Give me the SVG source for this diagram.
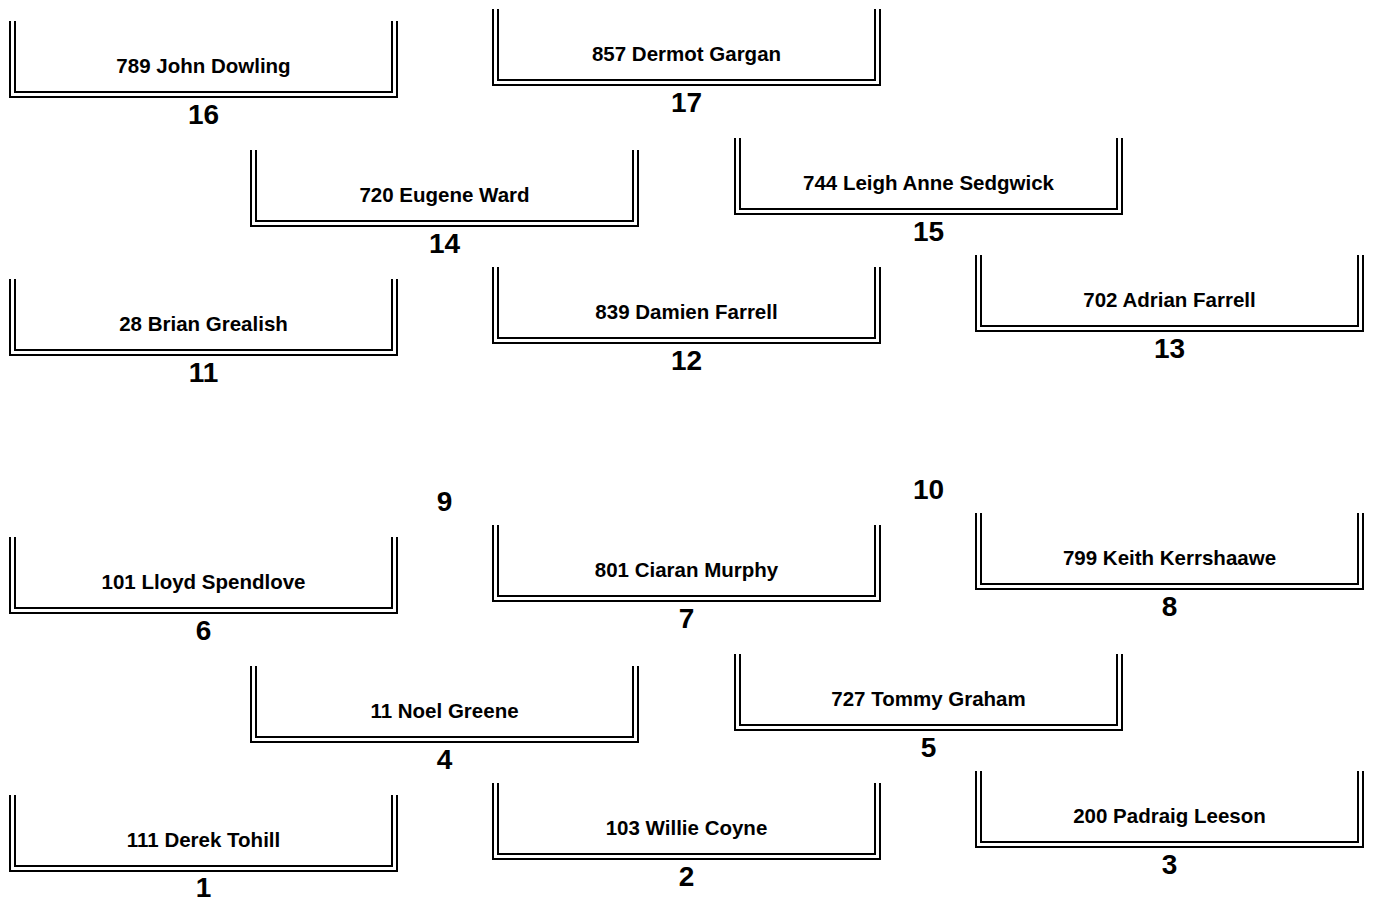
<svg xmlns="http://www.w3.org/2000/svg" width="1374" height="900" viewBox="0 0 1374 900">
<style>
.b{fill:none;stroke:#000;stroke-width:2}
.n{font-family:"Liberation Sans",Arial,Helvetica,sans-serif;font-weight:bold;font-size:20.5px;text-anchor:middle;fill:#000}
.s{font-family:"Liberation Sans",Arial,Helvetica,sans-serif;font-weight:bold;font-size:28px;text-anchor:middle;fill:#000}
</style>
<rect width="1374" height="900" fill="#fff"/>
<g id="connectors"></g>
<g id="node16" transform="translate(10,21)"><path class="b" d="M0,0V76H387V0"/><path class="b" d="M5,0V71H382V0"/><text class="n" x="193.5" y="52">789 John Dowling</text><text class="s" x="193.5" y="103">16</text></g>
<g id="node17" transform="translate(493,9)"><path class="b" d="M0,0V76H387V0"/><path class="b" d="M5,0V71H382V0"/><text class="n" x="193.5" y="52">857 Dermot Gargan</text><text class="s" x="193.5" y="103">17</text></g>
<g id="node14" transform="translate(251,150)"><path class="b" d="M0,0V76H387V0"/><path class="b" d="M5,0V71H382V0"/><text class="n" x="193.5" y="52">720 Eugene Ward</text><text class="s" x="193.5" y="103">14</text></g>
<g id="node15" transform="translate(735,138)"><path class="b" d="M0,0V76H387V0"/><path class="b" d="M5,0V71H382V0"/><text class="n" x="193.5" y="52">744 Leigh Anne Sedgwick</text><text class="s" x="193.5" y="103">15</text></g>
<g id="node11" transform="translate(10,279)"><path class="b" d="M0,0V76H387V0"/><path class="b" d="M5,0V71H382V0"/><text class="n" x="193.5" y="52">28 Brian Grealish</text><text class="s" x="193.5" y="103">11</text></g>
<g id="node12" transform="translate(493,267)"><path class="b" d="M0,0V76H387V0"/><path class="b" d="M5,0V71H382V0"/><text class="n" x="193.5" y="52">839 Damien Farrell</text><text class="s" x="193.5" y="103">12</text></g>
<g id="node13" transform="translate(976,255)"><path class="b" d="M0,0V76H387V0"/><path class="b" d="M5,0V71H382V0"/><text class="n" x="193.5" y="52">702 Adrian Farrell</text><text class="s" x="193.5" y="103">13</text></g>
<g id="node9" transform="translate(251,408)"><text class="s" x="193.5" y="103">9</text></g>
<g id="node10" transform="translate(735,396)"><text class="s" x="193.5" y="103">10</text></g>
<g id="node6" transform="translate(10,537)"><path class="b" d="M0,0V76H387V0"/><path class="b" d="M5,0V71H382V0"/><text class="n" x="193.5" y="52">101 Lloyd Spendlove</text><text class="s" x="193.5" y="103">6</text></g>
<g id="node7" transform="translate(493,525)"><path class="b" d="M0,0V76H387V0"/><path class="b" d="M5,0V71H382V0"/><text class="n" x="193.5" y="52">801 Ciaran Murphy</text><text class="s" x="193.5" y="103">7</text></g>
<g id="node8" transform="translate(976,513)"><path class="b" d="M0,0V76H387V0"/><path class="b" d="M5,0V71H382V0"/><text class="n" x="193.5" y="52">799 Keith Kerrshaawe</text><text class="s" x="193.5" y="103">8</text></g>
<g id="node4" transform="translate(251,666)"><path class="b" d="M0,0V76H387V0"/><path class="b" d="M5,0V71H382V0"/><text class="n" x="193.5" y="52">11 Noel Greene</text><text class="s" x="193.5" y="103">4</text></g>
<g id="node5" transform="translate(735,654)"><path class="b" d="M0,0V76H387V0"/><path class="b" d="M5,0V71H382V0"/><text class="n" x="193.5" y="52">727 Tommy Graham</text><text class="s" x="193.5" y="103">5</text></g>
<g id="node1" transform="translate(10,795)"><path class="b" d="M0,0V76H387V0"/><path class="b" d="M5,0V71H382V0"/><text class="n" x="193.5" y="52">111 Derek Tohill</text><text class="s" x="193.5" y="102">1</text></g>
<g id="node2" transform="translate(493,783)"><path class="b" d="M0,0V76H387V0"/><path class="b" d="M5,0V71H382V0"/><text class="n" x="193.5" y="52">103 Willie Coyne</text><text class="s" x="193.5" y="103">2</text></g>
<g id="node3" transform="translate(976,771)"><path class="b" d="M0,0V76H387V0"/><path class="b" d="M5,0V71H382V0"/><text class="n" x="193.5" y="52">200 Padraig Leeson</text><text class="s" x="193.5" y="103">3</text></g>
</svg>
